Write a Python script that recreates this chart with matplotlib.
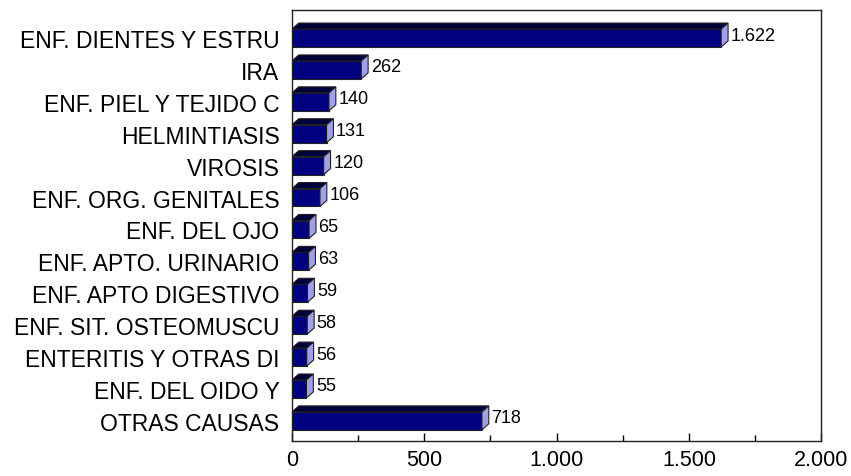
import matplotlib
matplotlib.use("Agg")
import matplotlib.pyplot as plt
from matplotlib.patches import Polygon, Rectangle
from matplotlib.ticker import MultipleLocator, FuncFormatter

categories = ["ENF. DIENTES Y ESTRU", "IRA", "ENF. PIEL Y TEJIDO C", "HELMINTIASIS",
              "VIROSIS", "ENF. ORG. GENITALES", "ENF. DEL OJO", "ENF. APTO. URINARIO",
              "ENF. APTO DIGESTIVO", "ENF. SIT. OSTEOMUSCU", "ENTERITIS Y OTRAS DI",
              "ENF. DEL OIDO Y", "OTRAS CAUSAS"]
values = [1622, 262, 140, 131, 120, 106, 65, 63, 59, 58, 56, 55, 718]

plt.rcParams['font.family'] = ['Liberation Sans', 'DejaVu Sans']

fig = plt.figure(figsize=(8.51, 4.77), dpi=100)
ax = fig.add_axes([0.343, 0.0734, 0.622, 0.9036])

# 3d look: front face, dark top face, light side face
h = 0.56
dx = 26
dy = 0.19
front_col = "#000080"
top_col = "#00003a"
side_col = "#a0a0e8"
edge = "#202020"

for i, v in enumerate(values):
    y0 = i - h / 2
    y1 = i + h / 2
    ax.add_patch(Rectangle((0, y0), v, h, facecolor=front_col, edgecolor=edge, lw=0.8, zorder=3))
    top = [(0, y0), (dx, y0 - dy), (v + dx, y0 - dy), (v, y0)]
    ax.add_patch(Polygon(top, closed=True, facecolor=top_col, edgecolor=edge, lw=0.8, zorder=3))
    side = [(v, y0), (v + dx, y0 - dy), (v + dx, y1 - dy), (v, y1)]
    ax.add_patch(Polygon(side, closed=True, facecolor=side_col, edgecolor=edge, lw=0.8, zorder=3))
    lbl = f"{v:,}".replace(",", ".")
    ax.text(v + dx + 10, i - dy / 2, lbl, va="center", ha="left", fontsize=13, zorder=4)

ax.set_xlim(0, 2000)
ax.set_ylim(12.63, -0.88)
ax.set_yticks(range(len(categories)))
ax.set_yticklabels(categories, fontsize=16.5)
ax.xaxis.set_major_locator(MultipleLocator(500))
ax.xaxis.set_minor_locator(MultipleLocator(250))
ax.xaxis.set_major_formatter(FuncFormatter(lambda x, p: f"{int(x):,}".replace(",", ".")))
ax.tick_params(axis="x", which="major", direction="in", length=6, width=1, labelsize=15.5, pad=6)
ax.tick_params(axis="x", which="minor", direction="in", length=4, width=1)
ax.tick_params(axis="y", direction="in", length=4, width=1, pad=9)
for s in ax.spines.values():
    s.set_linewidth(1)
    s.set_color("#222222")

fig.savefig("out.png", dpi=100)
